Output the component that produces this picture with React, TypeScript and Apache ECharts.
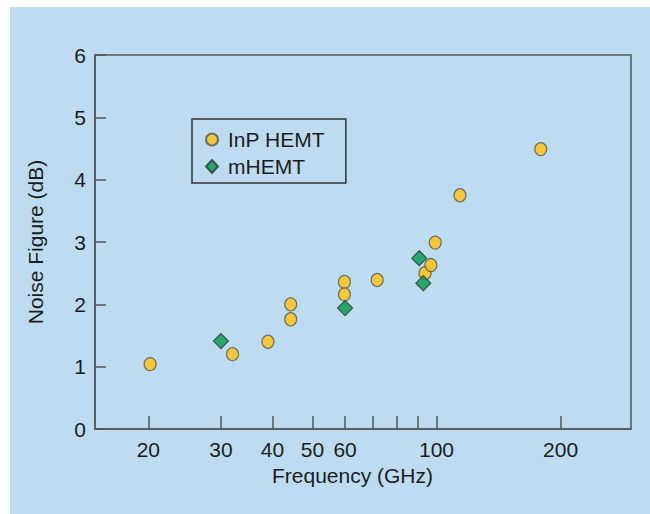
import React, { useEffect, useRef } from "react";
import * as echarts from "echarts";

// Frequency (GHz), Noise Figure (dB)
const inpFreq = [20.2, 32.0, 39.0, 44.3, 44.3, 59.8, 59.8, 71.8, 93.8, 96.9, 99.3, 114, 179];
const inpNF = [1.04, 1.2, 1.4, 2.0, 1.76, 2.36, 2.16, 2.39, 2.5, 2.63, 2.99, 3.75, 4.49];
const mFreq = [30.0, 60.0, 90.8, 92.9];
const mNF = [1.41, 1.94, 2.74, 2.34];

const xTickValues = [20, 30, 40, 50, 60, 70, 80, 90, 100, 200];
const xLabelValues = [20, 30, 40, 50, 60, 100, 200];
const yMin = 0;
const yMax = 6;

const FONT = "'Liberation Sans', Arial, Helvetica, sans-serif";
const BG = "#BDDCF1";
const TXT = "#1c1c1c";
const LINE = "#555";
const FS = 21;

export default function App() {
  const ref = useRef<HTMLDivElement>(null);
  useEffect(() => {
    if (!ref.current) return;
    const chart = echarts.init(ref.current, undefined, { renderer: "svg" });
    const lg = (v: number) => Math.log10(v);
    chart.setOption({
      animation: false,
      backgroundColor: BG,
      textStyle: { fontFamily: FONT },
      grid: {
        left: 85,
        top: 48,
        right: 19,
        bottom: 85,
        show: true,
        borderColor: LINE,
        borderWidth: 1.5,
        backgroundColor: "transparent",
      },
      legend: {
        orient: "vertical",
        left: 182,
        top: 112,
        padding: [10, 21, 6, 13],
        itemGap: 6,
        itemWidth: 12,
        itemHeight: 13,
        borderColor: "#333",
        borderWidth: 1.5,
        backgroundColor: BG,
        borderRadius: 0,
        textStyle: { fontSize: FS, color: TXT, fontFamily: FONT, padding: [0, 0, 0, 5] },
        data: ["InP HEMT", "mHEMT"],
      },
      xAxis: {
        type: "value",
        min: 1.1716,
        max: 2.4718,
        name: "Frequency (GHz)",
        nameLocation: "middle",
        nameGap: 35,
        nameTextStyle: { fontSize: FS, color: TXT, fontFamily: FONT, padding: [0, 21, 0, 0] },
        splitLine: { show: false },
        axisLine: { show: true, lineStyle: { color: LINE, width: 1.5 } },
        axisTick: {
          show: true,
          inside: true,
          length: 13,
          customValues: xTickValues.map(lg),
          lineStyle: { color: LINE, width: 1.5 },
        },
        axisLabel: {
          show: true,
          margin: 10,
          fontSize: FS,
          color: TXT,
          fontFamily: FONT,
          customValues: xLabelValues.map(lg),
          formatter: (v: number) => String(Math.round(Math.pow(10, v))),
        },
      },
      yAxis: {
        type: "value",
        min: yMin,
        max: yMax,
        interval: 1,
        name: "Noise Figure (dB)",
        nameLocation: "middle",
        nameGap: 49,
        nameTextStyle: { fontSize: FS, color: TXT, fontFamily: FONT },
        splitLine: { show: false },
        axisLine: { show: true, lineStyle: { color: LINE, width: 1.5 } },
        axisTick: { show: true, inside: true, length: 11, lineStyle: { color: LINE, width: 1.5 } },
        axisLabel: { margin: 9, fontSize: FS, color: TXT, fontFamily: FONT },
      },
      series: [
        {
          name: "InP HEMT",
          type: "scatter",
          symbol: "circle",
          symbolSize: [12, 13],
          itemStyle: { color: "#FFC20E", borderColor: "#555", borderWidth: 1.2 },
          data: inpFreq.map((f, i) => [lg(f), inpNF[i]]),
        },
        {
          name: "mHEMT",
          type: "scatter",
          symbol: "diamond",
          symbolSize: 15,
          itemStyle: { color: "#009A4B", borderColor: "#333", borderWidth: 1.2 },
          data: mFreq.map((f, i) => [lg(f), mNF[i]]),
        },
      ],
    });
    return () => chart.dispose();
  }, []);
  return (
    <div
      ref={ref}
      style={{ position: "absolute", left: 10, top: 7, width: 640, height: 507 }}
    />
  );
}
